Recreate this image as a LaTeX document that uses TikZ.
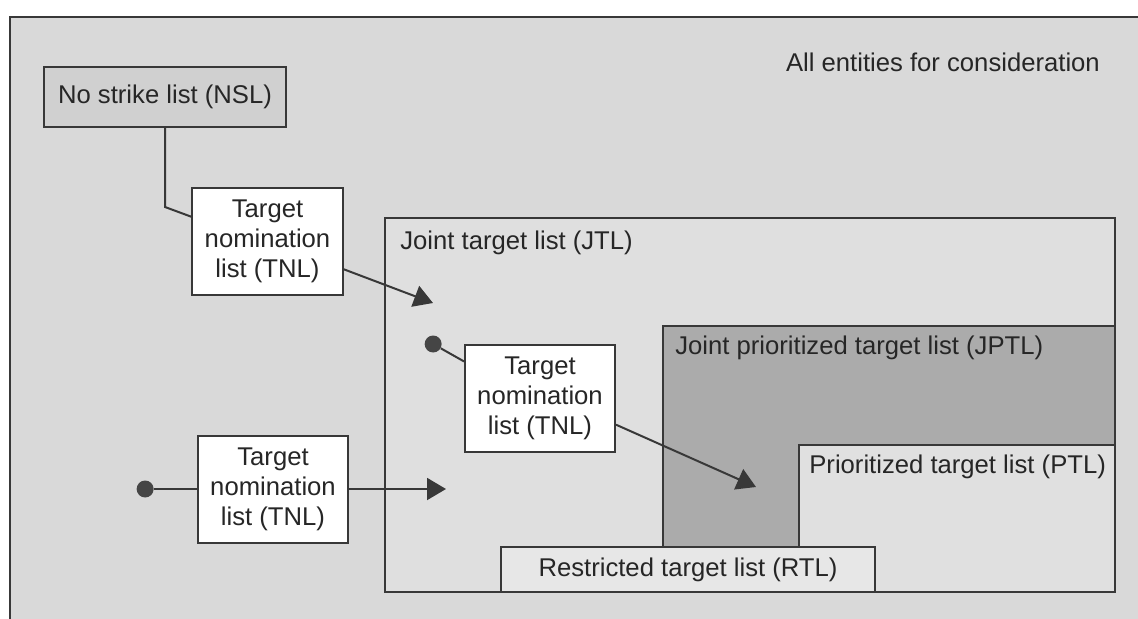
\documentclass[tikz,border=0pt]{standalone}
\usepackage{fontspec}
\setmainfont{Liberation Sans}
\usepackage{xcolor}
\usepackage{tikz}
\usetikzlibrary{arrows.meta, positioning}

\definecolor{bggray}{HTML}{D9D9D9}
\definecolor{nslgray}{HTML}{D0D0D0}
\definecolor{jtlgray}{HTML}{DFDFDF}
\definecolor{jptlgray}{HTML}{ABABAB}
\definecolor{ptlgray}{HTML}{E0E0E0}
\definecolor{rtlgray}{HTML}{E7E7E7}
\definecolor{linegray}{HTML}{383838}
\definecolor{dotgray}{HTML}{454545}
\definecolor{textgray}{HTML}{262626}

\begin{document}
\begin{tikzpicture} [
        x = 0.2mm, y = -0.2mm,
        font = \fontsize{14.6}{17}\selectfont,
        text = textgray,
        zone/.style = {rectangle, draw=linegray, line width=0.4mm, anchor=north west, inner sep=0, outer sep=0},
        tnl/.style = {rectangle, draw=linegray, line width=0.4mm, fill=white, align=center, minimum width=30mm, minimum height=21.4mm, inner sep=0},
        tag/.style = {anchor=west, inner sep=0},
        startdot/.style = {circle, fill=dotgray, minimum size=3.4mm, inner sep=0},
        link/.style = {draw=linegray, line width=0.4mm},
        flow/.style = {link, -{Triangle[length=3.8mm, width=4.4mm]}}
    ]

    \clip (0,0) rectangle (1138,618);
    \fill[white] (0,0) rectangle (1138,618);

    % outer area
    \node[zone, fill=bggray, minimum width=230mm, minimum height=122mm] (all) at (10,17) {};
    \node[anchor=east] (alltext) at (1106,62) {All entities for consideration};

    \node[zone, fill=nslgray, minimum width=48.4mm, minimum height=12mm, anchor=center] (nsl) at (165,97) {No strike list (NSL)};

    % nested lists
    \node[zone, fill=jtlgray, minimum width=146mm, minimum height=74.8mm] (jtl) at (385,218) {};
    \node[tag] (jtltext) at ([shift={(15,25)}]jtl.north west) {Joint target list (JTL)};

    \node[zone, fill=jptlgray, minimum width=90.4mm, minimum height=53.2mm] (jptl) at (663,326) {};
    \node[tag] (jptltext) at ([shift={(12,22)}]jptl.north west) {Joint prioritized target list (JPTL)};

    \node[zone, fill=ptlgray, minimum width=63.2mm, minimum height=29.4mm] (ptl) at (799,445) {};
    \node[tag] (ptltext) at ([shift={(10,22)}]ptl.north west) {Prioritized target list (PTL)};

    \node[zone, fill=rtlgray, minimum width=74.8mm, minimum height=9mm] (rtl) at (501,547) {Restricted target list (RTL)};

    % nominations
    \node[tnl] (tnl1) at (267.5,241.5) {Target\\nomination\\list (TNL)};
    \node[tnl] (tnl2) at (540,398.5)   {Target\\nomination\\list (TNL)};
    \node[tnl] (tnl3) at (273,489)     {Target\\nomination\\list (TNL)};

    \node[startdot, left = 4.4mm of tnl2.north west] (dot2) {};
    \node[startdot, left = 8.6mm of tnl3]            (dot3) {};

    \coordinate (in1) at (433,303);
    \coordinate (in2) at (756,487);
    \coordinate (in3) at (446,489);

    \draw[link] (nsl.south) -- ++(0,80) -- (tnl1.162);
    \draw[link] (dot2) -- (tnl2.154);
    \draw[link] (dot3) -- (tnl3);

    \draw[flow] (tnl1.-20) -- (in1);
    \draw[flow] (tnl2.-19) -- (in2);
    \draw[flow] (tnl3) -- (in3);

\end{tikzpicture}
\end{document}
